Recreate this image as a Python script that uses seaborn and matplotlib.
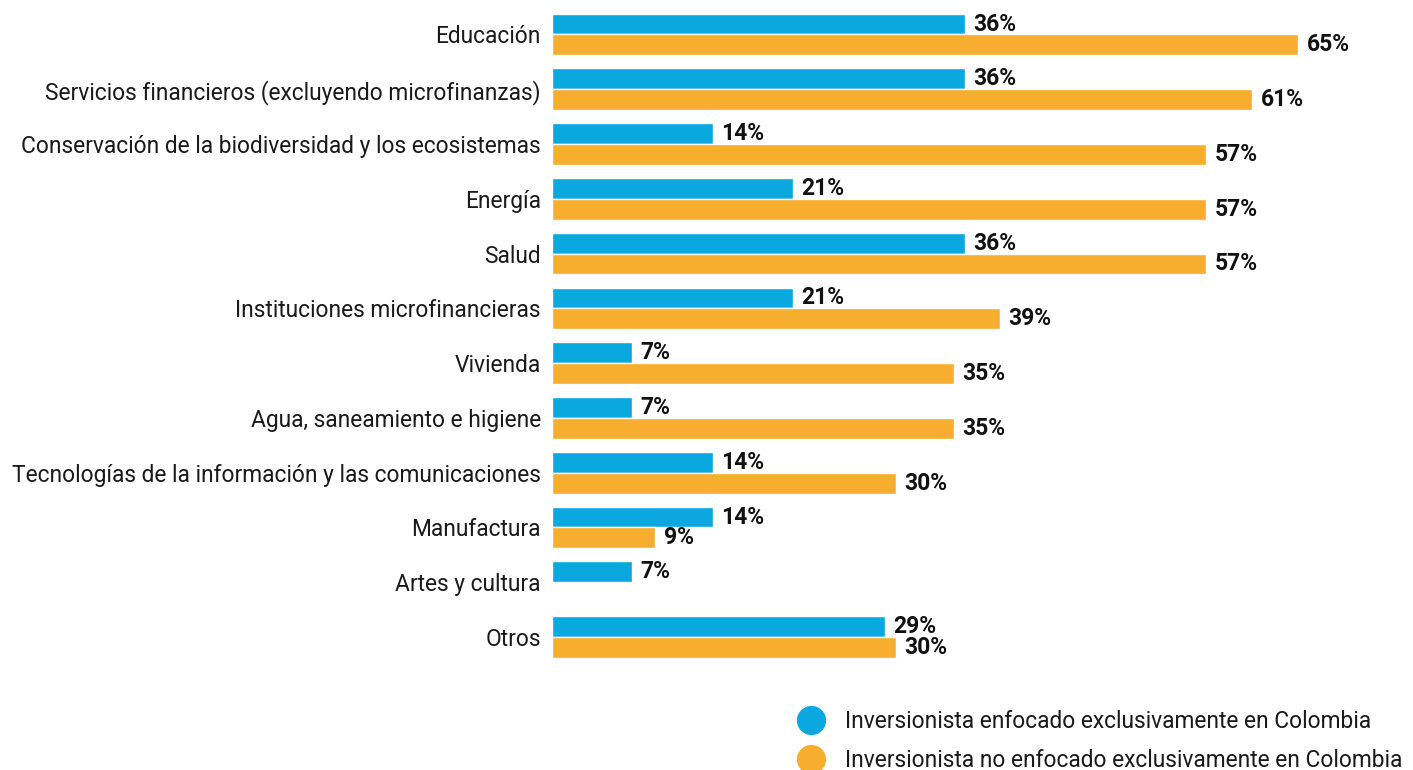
import matplotlib
matplotlib.use("Agg")
import matplotlib.pyplot as plt
from matplotlib.lines import Line2D
import numpy as np
import pandas as pd
import seaborn as sns

categories = [
    "Educación",
    "Servicios financieros (excluyendo microfinanzas)",
    "Conservación de la biodiversidad y los ecosistemas",
    "Energía",
    "Salud",
    "Instituciones microfinancieras",
    "Vivienda",
    "Agua, saneamiento e higiene",
    "Tecnologías de la información y las comunicaciones",
    "Manufactura",
    "Artes y cultura",
    "Otros",
]
series_names = [
    "Inversionista enfocado exclusivamente en Colombia",
    "Inversionista no enfocado exclusivamente en Colombia",
]
colombia_only = [36, 36, 14, 21, 36, 21, 7, 7, 14, 14, 7, 29]
not_colombia_only = [65, 61, 57, 57, 57, 39, 35, 35, 30, 9, np.nan, 30]

colors = ["#0BA7DF", "#F7AE2F"]

df = pd.DataFrame({
    "categoria": categories * 2,
    "serie": [series_names[0]] * len(categories) + [series_names[1]] * len(categories),
    "valor": colombia_only + not_colombia_only,
}).dropna()

sns.set_theme(style="white")
plt.rcParams["font.family"] = ["Roboto", "DejaVu Sans"]

FS = 16.4

fig = plt.figure(figsize=(14.13, 7.70), dpi=100)
ax = fig.add_axes([552 / 1413, 1 - 664.4 / 770, 1 - 552 / 1413, (664.4 - 7.1) / 770])

sns.barplot(
    data=df, y="categoria", x="valor", hue="serie",
    order=categories, hue_order=series_names, palette=colors,
    orient="h", width=0.76, edgecolor="white", linewidth=1.0,
    saturation=1, legend=False, ax=ax,
)

for cont in ax.containers:
    ax.bar_label(cont, fmt="{:.0f}%", padding=6, fontsize=16.5,
                 fontweight="bold", color="#111111")

ax.set_xlim(0, 75)
ax.set_ylim(len(categories) - 0.5, -0.5)
ax.set_xlabel("")
ax.set_ylabel("")
ax.set_xticks([])
ax.tick_params(axis="y", length=0, pad=8, labelsize=FS, labelcolor="#1a1a1a")
for s in ax.spines.values():
    s.set_visible(False)

handles = [
    Line2D([0], [0], marker="o", linestyle="", markersize=20,
           markerfacecolor=c, markeredgecolor=c)
    for c in colors
]
fig.legend(
    handles, series_names, loc="upper left",
    bbox_to_anchor=(788 / 1413, 1 - 710 / 770),
    frameon=False, fontsize=FS, handletextpad=0.5,
    labelspacing=0.7, borderaxespad=0, borderpad=0,
    labelcolor="#1a1a1a",
)

fig.savefig("out.png", dpi=100)
